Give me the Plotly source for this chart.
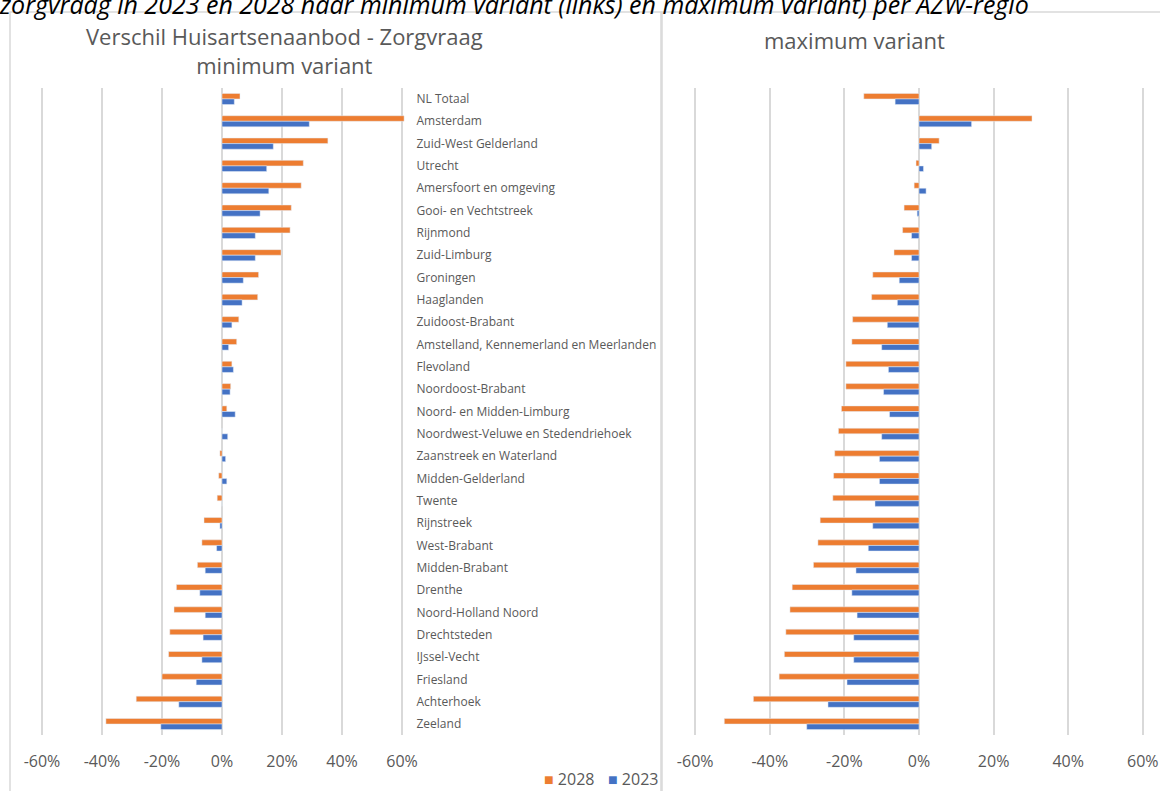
import plotly.graph_objects as go

W, H = 1160, 791

regions = [
    "NL Totaal", "Amsterdam", "Zuid-West Gelderland", "Utrecht", "Amersfoort en omgeving",
    "Gooi- en Vechtstreek", "Rijnmond", "Zuid-Limburg", "Groningen", "Haaglanden",
    "Zuidoost-Brabant", "Amstelland, Kennemerland en Meerlanden", "Flevoland",
    "Noordoost-Brabant", "Noord- en Midden-Limburg", "Noordwest-Veluwe en Stedendriehoek",
    "Zaanstreek en Waterland", "Midden-Gelderland", "Twente", "Rijnstreek", "West-Brabant",
    "Midden-Brabant", "Drenthe", "Noord-Holland Noord", "Drechtsteden", "IJssel-Vecht",
    "Friesland", "Achterhoek", "Zeeland",
]

# minimum variant (percent)
min_2028 = [6.0, 60.7, 35.3, 27.1, 26.4, 23.1, 22.7, 19.7, 12.2, 11.9,
            5.6, 4.9, 3.3, 2.9, 1.6, 0.0, -0.7, -1.1, -1.6, -6.0, -6.7,
            -8.2, -15.2, -16.0, -17.4, -17.8, -20.0, -28.6, -38.7]
min_2023 = [4.1, 29.1, 17.1, 14.9, 15.6, 12.7, 11.1, 11.1, 7.1, 6.7,
            3.3, 2.2, 3.8, 2.7, 4.4, 1.9, 1.2, 1.6, 0.0, -0.7, -1.8,
            -5.6, -7.4, -5.6, -6.3, -6.7, -8.6, -14.4, -20.4]

# maximum variant (percent)
max_2028 = [-14.8, 30.3, 5.4, -0.8, -1.3, -4.0, -4.4, -6.7, -12.4, -12.7,
            -17.8, -18.0, -19.6, -19.6, -20.8, -21.6, -22.6, -22.9, -23.1, -26.5, -27.1,
            -28.3, -34.0, -34.6, -35.7, -36.1, -37.5, -44.4, -52.2]
max_2023 = [-6.4, 14.1, 3.4, 1.2, 1.9, -0.5, -2.0, -2.0, -5.3, -5.8,
            -8.5, -10.0, -8.2, -9.5, -7.9, -10.0, -10.6, -10.6, -11.8, -12.4, -13.6,
            -16.9, -18.0, -16.6, -17.5, -17.5, -19.3, -24.4, -30.1]

tick_vals = [-60, -40, -20, 0, 20, 40, 60]
tick_text = ["-60%", "-40%", "-20%", "0%", "20%", "40%", "60%"]

series_names = ["2028", "2023"]
ORANGE = "#ED7D31"
BLUE = "#4472C4"
series_colors = [ORANGE, BLUE]
GRID = "#D9D9D9"
TXT = "#595959"
FONT = "Open Sans"


def px(xp):
    return xp / W


def py(yp):
    return 1 - yp / H


fig = go.Figure()
fig.add_trace(go.Bar(y=regions, x=min_2028, orientation="h", name=series_names[0],
                     marker_color=ORANGE, xaxis="x", yaxis="y"))
fig.add_trace(go.Bar(y=regions, x=min_2023, orientation="h", name=series_names[1],
                     marker_color=BLUE, xaxis="x", yaxis="y"))
fig.add_trace(go.Bar(y=regions, x=max_2028, orientation="h", name=series_names[0],
                     marker_color=ORANGE, xaxis="x2", yaxis="y2"))
fig.add_trace(go.Bar(y=regions, x=max_2023, orientation="h", name=series_names[1],
                     marker_color=BLUE, xaxis="x2", yaxis="y2"))

# left panel: 0 at 222px, 3px per %
l0, ls = 222.0, 3.0
lrange = [-61, 61.5]
# right panel: 0 at 919px, 3.73px per %
r0, rs = 919.0, 3.73
rrange = [-61, 61]

ytop, ybot = 87.8, 735.2

xaxis_common = dict(
    tickvals=tick_vals, ticktext=tick_text, showgrid=True, gridcolor=GRID, gridwidth=2,
    zeroline=True, zerolinecolor=GRID, zerolinewidth=2, showline=False,
    ticks="outside", ticklen=12, tickcolor="rgba(0,0,0,0)", automargin=False,
    tickfont=dict(family=FONT, size=16, color=TXT), fixedrange=True,
)

fig.update_layout(
    width=W, height=H, autosize=False,
    margin=dict(l=0, r=0, t=0, b=0, pad=0),
    paper_bgcolor="white", plot_bgcolor="white",
    barmode="group", bargap=0.5, bargroupgap=0.0,
    font=dict(family=FONT, color=TXT),
    showlegend=False,
    xaxis=dict(domain=[px(l0 + ls * lrange[0]), px(l0 + ls * lrange[1])], range=lrange,
               anchor="y", **xaxis_common),
    xaxis2=dict(domain=[px(r0 + rs * rrange[0]), px(r0 + rs * rrange[1])], range=rrange,
                anchor="y2", **xaxis_common),
    yaxis=dict(domain=[py(ybot), py(ytop)], anchor="x", side="right", autorange="reversed",
               showgrid=False, zeroline=False, showline=False, ticks="", automargin=False,
               ticklabelstandoff=9, tickfont=dict(family=FONT, size=12, color=TXT),
               fixedrange=True),
    yaxis2=dict(domain=[py(ybot), py(ytop)], anchor="x2", autorange="reversed",
                showgrid=False, zeroline=False, showline=False, showticklabels=False,
                ticks="", automargin=False, fixedrange=True),
)

# chart frames
fig.add_shape(type="rect", xref="paper", yref="paper", x0=px(10), x1=px(661), y0=py(820), y1=py(12),
              line=dict(color=GRID, width=1.5), fillcolor="rgba(0,0,0,0)", layer="below")
fig.add_shape(type="rect", xref="paper", yref="paper", x0=px(662), x1=px(1190), y0=py(820), y1=py(12),
              line=dict(color=GRID, width=1.5), fillcolor="rgba(0,0,0,0)", layer="below")

# legend (Excel style: small square + label)
legend_x = [542, 606]
for name, col, lx in zip(series_names, series_colors, legend_x):
    fig.add_annotation(xref="paper", yref="paper", x=px(lx), y=py(779), xanchor="left", yanchor="middle",
                       text=f"<span style='color:{col}'>■</span> {name}", showarrow=False,
                       font=dict(family=FONT, size=16, color=TXT))

# panel titles
fig.add_annotation(xref="paper", yref="paper", x=px(284), y=py(50.5), xanchor="center", yanchor="middle",
                   text="Verschil Huisartsenaanbod - Zorgvraag<br>minimum variant", showarrow=False,
                   font=dict(family=FONT, size=22, color=TXT))
fig.add_annotation(xref="paper", yref="paper", x=px(854), y=py(40), xanchor="center", yanchor="middle",
                   text="maximum variant", showarrow=False,
                   font=dict(family=FONT, size=22, color=TXT))

# cut-off caption at the top
fig.add_annotation(xref="paper", yref="paper", x=0, y=py(23), xanchor="left", yanchor="bottom",
                   xshift=-3,
                   text="zorgvraag in 2023 en 2028 naar minimum variant (links) en maximum variant) per AZW-regio",
                   showarrow=False, font=dict(family=FONT, size=25, color="black", style="italic"))

fig.write_html("out.html", config={"displayModeBar": False},
               post_script="document.body.style.margin='0';document.body.style.overflow='hidden';")
